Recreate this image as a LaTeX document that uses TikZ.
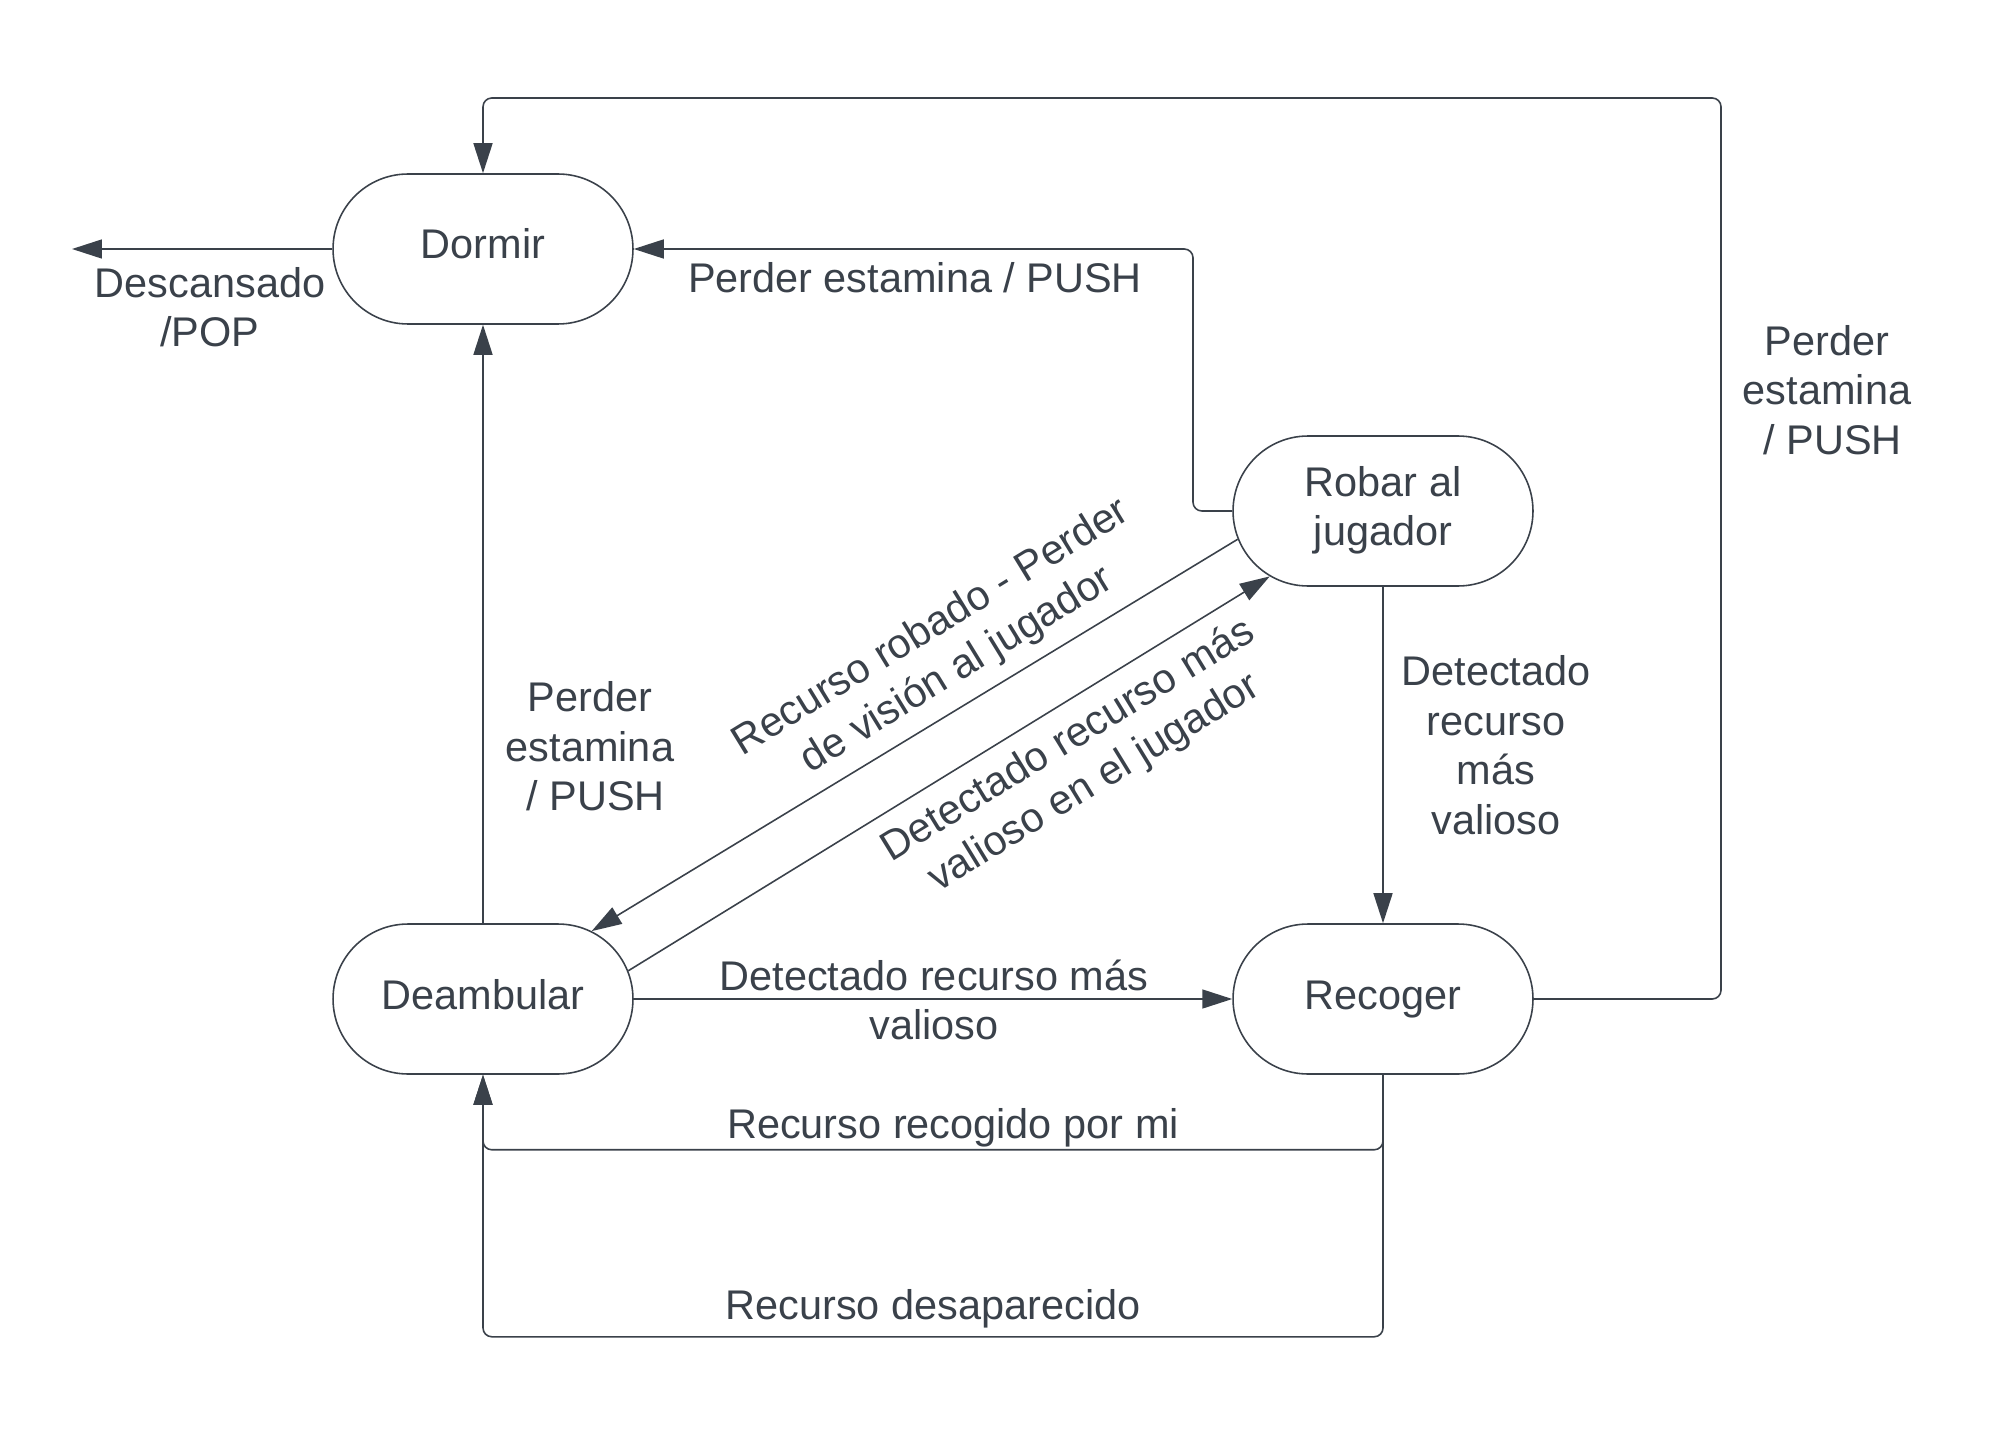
\documentclass[tikz,border=0pt]{standalone}
\usepackage{fontspec}
\setmainfont{Liberation Sans}
\usetikzlibrary{shapes.misc,arrows.meta}

\definecolor{tinta}{RGB}{58,65,74}
\newcommand{\renglones}[1]{\begin{tabular}[t]{@{}c@{}}#1\end{tabular}}

\begin{document}
\begin{tikzpicture}[x=0.02cm, y=-0.02cm,
        every node/.style={font=\fontsize{23.6pt}{28.45pt}\selectfont, text=tinta, inner sep=0pt},
        estado/.style={rounded rectangle, draw=tinta, line width=0.9pt,
            minimum width=6cm, minimum height=3cm},
        flecha/.style={draw=tinta, line width=0.9pt, rounded corners=5pt,
            -{Triangle[length=0.6cm, width=0.38cm]}}]
    \useasboundingbox (0,0) rectangle (1993,1442);

    % estados
    \node[estado] (dormir) at (483,249) {\renglones{Dormir}};
    \node[estado] (robar) at (1383,511) {\renglones{Robar al\\jugador}};
    \node[estado] (deambular) at (483,999) {\renglones{Deambular}};
    \node[estado] (recoger) at (1383,999) {\renglones{Recoger}};
    \coordinate (salida) at (72,249);

    % transiciones
    \draw[flecha] (dormir.west) -- (salida);
    \draw[flecha] (robar.west) -| (1193,249) -- (dormir.east);
    \draw[flecha] (deambular.north) -- (dormir.south);
    \draw[flecha] (recoger.east) -| (1721,98) -| (dormir.north);
    \draw[flecha] (robar.191) -- (deambular.32);
    \draw[flecha] (deambular.11) -- (robar.210);
    \draw[flecha] (robar.south) -- (recoger.north);
    \draw[flecha] (deambular.east) -- (recoger.west);
    \draw[flecha] (recoger.south) -- ++(0,75) -| (deambular.south);
    \draw[flecha] (recoger.south) -- ++(0,262) -| (deambular.south);

    % etiquetas
    \node (descansado) at (210,312) {\renglones{Descansado\\/POP}};
    \node (perderRobar) at (915,283) {\renglones{Perder estamina / PUSH}};
    \node (perderRecoger) at (1827,395) {\renglones{Perder\\estamina\\\ / PUSH}};
    \node (perderDeambular) at (590,751) {\renglones{Perder\\estamina\\\ / PUSH}};
    \node (masValioso) at (1496,750) {\renglones{Detectado\\recurso\\más\\valioso}};
    \node (detectado) at (934,1005) {\renglones{Detectado recurso más\\valioso}};
    \node (recogido) at (953,1128) {\renglones{Recurso recogido por mi}};
    \node (desaparecido) at (933,1309) {\renglones{Recurso desaparecido}};
    \node[rotate=31.5] (robado) at (945,650) {\renglones{Recurso robado - Perder\\de visión al jugador}};
    \node[rotate=31.5] (enJugador) at (1082,763) {\renglones{Detectado recurso más\\valioso en el jugador}};
\end{tikzpicture}
\end{document}
